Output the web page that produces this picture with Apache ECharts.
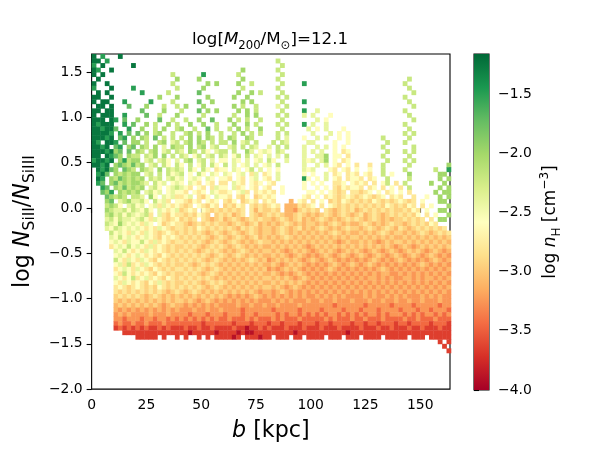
<!DOCTYPE html>
<html>
<head>
<meta charset="utf-8">
<script src="https://cdn.jsdelivr.net/npm/echarts@6/dist/echarts.min.js"></script>
<style>
  html, body { margin: 0; padding: 0; background: #fff; }
  #chart { width: 600px; height: 450px; }
</style>
</head>
<body>
<div id="chart"></div>
<script>
// binned map of log n_H: one string per 0.05 dex row (first row is 1.65..1.70),
// one char per 2 kpc column, '.' = empty bin, letters index levelValues
var bStep = 2, yStep = 0.05, yTop = 1.70;
var levelChars = 'abcdefghijklmn';
var levelValues = [-3.9, -3.65, -3.45, -3.25, -3.1, -2.95, -2.8, -2.6, -2.4, -2.2, -2.0, -1.75, -1.5, -1.25];

var rows = [
  'n.m...n... .......... .......... .......... .......... .......... .......... .......... ..',
  'nn.m...... .......... .......... .......... ..j....... .......... .......... .......... ..',
  'm.n......n .......... .......... .......... ...j...... .......... .......... .......... ..',
  'nm..n..... .......... .......... ....k..... ..j....... .......... .......... .......... ..',
  'n.n....... ........j. .....m.... ...j...... ...j...... .......... .......... .......... ..',
  '.n........ .........k ....k..... ....k..... ..j....... .......... .......... ..j....... ..',
  'n..n...... ........j. ......k.k. ...k..j... ...j....m. .......... .......... .j........ ..',
  'm...n....m .........j .....k.... ....j..... ..j....... .......... .......... ..j....... ..',
  '.n.n...... .m.....j.. ....l..... ...k..k.j. ...j...... .......... .......... ...j...... ..',
  'nn..n..... .....k...k ......k... ..k..k.... ..j.j..... .......... .......... .j........ ..',
  'n.nn...m.. ...m....j. ....l..k.. ....k.k... ...j....m. .......... .......... ..j....... ..',
  '.nn.n...l. ..k...j..j .k...k.... ..k.j..j.. ..i.j..... .......... .......... ...j...... ..',
  'nn.nn..... .l....k... j...l.k.k. ...k.k.j.. ...j....m. .i........ .......... .j........ ..',
  'n.nnn..m.. ..l..j...k .....j.... ..j..k.k.. ..j.j...i. i...h..... .......... ..j....... ..',
  'nnn.nm.l.. k....l..j. .j..k..l.. .k.j.j..j. ...j...... .i.h...... .......... ...j...... ..',
  'nmnnn..m.l ..k.j..k.j ..k..k..j. ..k..k.j.. ..j.j...m. i..i...... .......... .j........ ..',
  'nnmnnl..m. .k..j.k..j k..j..l.j. .j.k.j..k. ...j.....i .h.i...h.. .......... ..j....... ..',
  'nnnnm.m.l. l.k.jk..j. .jk.j.k..j ..j.k.j.j. ..j.j..... i...i.h.h. .......... .j.j...... ..',
  'nnnmn.lm.k .kj.l.j.j. j.k.k.kj.j .kj..kj... ..j.i...h. .i.i..h.h. ......j... ..j....... ..',
  'nm.nnm.l.k k.j..jk.ij .jk.kj.j.j j.k.ij.j.. .j.ji....i i....h..h. .......j.. .j........ ..',
  'nnmn.lm.kl .kj.k.i.kj j.k.jk.ij. .ij.j.ji.. i.j.j...i. .i.i.h.h.. ......j... ...j...... ..',
  'nnnmnkl.l. kj.jk.ij.j i.kj.jh.ij j.j..ki.hi h.ji....i. i.i..h.gh. .......j.. .j.j...... ..',
  'nn.nmlk.kj j.jik.k.j. ji.hj.ij.j i.hj.j.ih. i.i.j...i. .iik.hh.g. ......j... ..j....... ..',
  'mnnmn.kmjk k.ij.ijh.i .jk.ij.i.h h.ih.i.hi. jh..i...ih i.ik.h.gh. .......j.. .j.j...... ..',
  'nnmn.klkjl jk.ij.jh.j h.j.hj.jh. j.i.hi.i.h i.j.....i. .i.i.hg.h. g..g..j... ..j....... .k',
  '.nmnlk.lkj .kji.k.jij i.jh.jh.gh h.ih.hj.i. h.h.....ih i...hg.hg. h..h..j... .j......j. .m',
  '.mnl.kjkjk k.ij.j.jhi j.h.jh.ih. ih.hi.gi.g h.i.....h. h..i.gh.gh g.hg..j.h. ..k......k k.',
  '.nm.kjlkjk jk.jij.ijh i.hih.ih.h hg.hg.hi.h g.i.....mh .h.i.hg.gh hg.gh..j.. ..j......k .k',
  '.ml.kljkjk kji.jhi.hi h.ihg.hg.g g.ihg.hgh. hg......h. h.h..ggh.h ghg.g.hj.g .j.....k.. k.',
  '..ml.kjljk jk.ijh.hij ihg.hg.gih h.igh.hg.h g..h....h. .h.h.gfhgh hg.gh.g.h. g.j......k .k',
  '..lkm.kjkj k.ijhi.hih hg.hgh.ihg gh.hig.ghg hg.h.....h h.h.hgfg.g gfgh.h.gh. h.g.....k. kk',
  '...lkjkj.j ji.kh.ihig ghi.gfh.ih hg.gfh.fgh gh......hg .h.ghgfghg fghgfgh.gh g..g..h..k .k',
  '...kl.ijki ijh.jhig.h hgfhg.hgh. gfh.fghg.g hg...e.hg. g.h.fgfhgf gfgfhgfgfg hgfg.h...k k.',
  '...jkjh.ij hi.higihgh gfg.hgfhg. fgfhg.gfgf ghg.eeegfg h.g.hgfgfg fgfgfgfhgf gfhg.g.h.. .k',
  '...kjiijhj ihjh.ihghi fghg.hgfgf gfgfg.gegf fgf.eedfgf gf.gfefgfg efgfgfgfgf fgfhg.h..k k.',
  '...jkijhji hijg.igfhg gfgfhgf.fg fgefg.gfef gfgfeefgfe fefgfefgfe fgefgfefgf gfgfh.g.h. .k',
  '...ijhjiih ijhgihgfgh fgfg.gfefg efgfefgfgf fefgfefgef efgfefefgf gfefgfefef fgfgfg.g.k k.',
  '...jihkihi hgih.hfghg gfefgfgfgf fefgfefgef efefgfefef fefefgfefe efgfefefgf fefgfgfhg. ..',
  '...ihjihih ihghgihgfg gfgfhgfgfg fgfegfgfef fefgfefgef efgfefefgf fefgfefgfe gfefgfgfgf g.',
  '....jhihgi hgihgfghgf gfgfgfefgf efgfefgfef fefgfefefe fefefgfefe efefefgfef fefefgfefg fg',
  '....ihjhih ghihgfhghg fgfgfgfefg fefgfefgef efefgfefef efefefefef fefefefefe efefefefef ef',
  '....hihgih hjhgighgfg gfgfgfefgf efgfefefgf fefefefefe fefefedefe efefedefef fefefefefe fe',
  '....ghihjh ihgighgfgf fgfgfefgfg fefgfefefe efefefefed efefefefef efefefefed efedefefef ef',
  '.....ihjhg hgihghgfgf gfgfefgfgf efefgfefef fefedefefe defefedefe fedefedefe defefedefe de',
  '.....hihgh ihghgfhgfg fgfgfgfefg fefgfefefe efefedefed edefedefed efedefedef edefedefed ed',
  '.....jhgih gihgfhgfgf gfgfgfefgf efefefgfef defefefede fedefedede dedefedede fedededefe de',
  '.....higjg hgihgfgfgf fgfefgfgfe fefefefefe efedefefed ededefedef edefededed ededefeded ed',
  '.....ghihg ihgfhgfgfg gfgfgfefgf efefefefef dedefefede dedefedede dededefede dedededede de',
  '.....hgjhg hghgfhgfgf fgfgfefgfe fefefefefe efededefed ededededed edededeedd ededededed ed',
  '.....ihghj ghighgfhgf gfgfgfgfef efefefefef fefefedefe dedededede dedeededed deededeede de',
  '.....hgihg hgfhgigfgf fgfgfefgfg fefefefefe efefefefed ededededed ededededed ededededed ed',
  '.....ghgfg hgfgfhgfgf gfgfgfefgf efefefefef fefedefede dedededede dedededede dedededede de',
  '.....gfgfg fgfgfgfefg fefgfefefe fefefefede edefededed ededededed ededededed ededededed ed',
  '.....fgfgf gfefgfefef efefefefef edededefed ededededed dededededd ddededdede dedddedede dd',
  '.....fefef efefefefef fefedefede dededededd dedededdde ddeddeddde dddeddedde ddeddeddde dd',
  '.....efefe fefefedefe ededededed dddeddedde ddeddddedd dddddcdddd ddcdddddcd dddcdddddc dd',
  '.....edede dedededede dddeddedde ddddcddddd dcdddddcdd ddcddddcdd dcdddcdddd cdddcddcdd dc',
  '.....deded dddedddedd ddcdddcddd cdddcddcdd ddcdcddcdc dcdcddcdcd cdcddcdcdd dcdcdcddcd cd',
  '.....ddcdd dcddcddcdc dcdcdcdcdc cdcccdcdcc cdcdcccdcc cccdcdcccd ccdcccdccc cdccdcccdc cc',
  '.....cdccd ccdcccdccc cccccbcccc ccbcccbccc bccbcccbcc cbccbccccb ccbccbcccb ccbccccbcc cb',
  '.....bcbcb cbcbbcbcbb bcbbcbbcbb bbcbbabbcb cbbbcbbbcb bbcbbbcbbb bcbbbcbbcb bbcbbcbbbc bb',
  '.......bbb bbbbbbbbbb bbabbbbbab bbbabaabbb bbbbbbabbb bbbbbbbbab bbbbbbbbbb bbbbbbbbbb bb',
  '.......... bbbbb.b..b .b..b.b.bb bbab.bbbab b.bbb.bb.b bbb.bbb.bb b.bbbb.bbb bb.bbb.bbb bb',
  '.......... .......... .......... .......... .......... .......... .......... .........b .b',
  '.......... .......... .......... .......... .......... .......... .......... .......... b.',
  '.......... .......... .......... .......... .......... .......... .......... .......... .b'
];

var xTicks = [0, 25, 50, 75, 100, 125, 150];
var yTicks = [-2, -1.5, -1, -0.5, 0, 0.5, 1, 1.5];
var cbTicks = [-4, -3.5, -3, -2.5, -2, -1.5];
var cbRange = [-4, -1.16];
var rdylgn = ['#a50026', '#d73027', '#f46d43', '#fdae61', '#fee08b', '#ffffbf',
              '#d9ef8b', '#a6d96a', '#66bd63', '#1a9850', '#006837'];

var cells = [];
rows.forEach(function (row, r) {
    var s = row.replace(/ /g, '');
    for (var c = 0; c < s.length; c++) {
        var k = levelChars.indexOf(s[c]);
        if (k < 0) continue;
        cells.push([c * bStep, +(yTop - (r + 1) * yStep).toFixed(2), levelValues[k]]);
    }
});

var font = 'DejaVu Sans';
function fmt1(v) {
    return (v < 0 ? '\u2212' : '') + Math.abs(v).toFixed(1);
}
var tickStyle = { color: '#000', width: 1.1 };

var chart = echarts.init(document.getElementById('chart'));
chart.setOption({
    animation: false,
    title: {
        text: 'log[{it|M}{sub|200}/M{sub|\u2299}]=12.1',
        left: 270,
        top: 28,
        textAlign: 'center',
        padding: 0,
        textStyle: {
            fontFamily: font, fontSize: 16.7, fontWeight: 'normal', color: '#000', lineHeight: 24,
            rich: {
                it: { fontFamily: font, fontSize: 16.7, fontStyle: 'italic', lineHeight: 24, color: '#000' },
                sub: { fontFamily: font, fontSize: 11.7, lineHeight: 16, verticalAlign: 'bottom', color: '#000' }
            }
        }
    },
    grid: [
        { left: 90, top: 54, width: 360, height: 336, show: true, borderColor: '#000', borderWidth: 1.1, backgroundColor: 'transparent' },
        { left: 474, top: 54, width: 15, height: 336, show: true, borderColor: '#000', borderWidth: 1.1, backgroundColor: 'transparent' }
    ],
    visualMap: {
        type: 'continuous',
        show: false,
        seriesIndex: 0,
        dimension: 2,
        min: cbRange[0],
        max: cbRange[1],
        inRange: { color: rdylgn }
    },
    xAxis: [{
        gridIndex: 0,
        type: 'value',
        min: 0,
        max: 163.6,
        splitLine: { show: false },
        axisLine: { show: false },
        axisTick: { show: true, length: 5, lineStyle: tickStyle, customValues: xTicks },
        axisLabel: { customValues: xTicks, margin: 9, color: '#000', fontFamily: font, fontSize: 13.9 },
        name: '{it|b} [kpc]',
        nameLocation: 'middle',
        nameGap: 27,
        nameTextStyle: {
            fontFamily: font, fontSize: 22.2, color: '#000', lineHeight: 28,
            rich: { it: { fontFamily: font, fontSize: 22.2, fontStyle: 'italic', lineHeight: 28, color: '#000' } }
        }
    }, {
        gridIndex: 1,
        type: 'value',
        min: 0,
        max: 1,
        show: false
    }],
    yAxis: [{
        gridIndex: 0,
        type: 'value',
        min: -2,
        max: 1.7,
        splitLine: { show: false },
        axisLine: { show: false },
        axisTick: { show: true, length: 5, lineStyle: tickStyle, customValues: yTicks },
        axisLabel: { customValues: yTicks, formatter: fmt1, margin: 9, color: '#000', fontFamily: font, fontSize: 13.9 },
        name: 'log {it|N}{sub|SiII}/{it|N}{sub|SiIII}',
        nameLocation: 'middle',
        nameRotate: 90,
        nameGap: 50,
        nameTextStyle: {
            fontFamily: font, fontSize: 22.2, color: '#000', lineHeight: 30,
            rich: {
                it: { fontFamily: font, fontSize: 22.2, fontStyle: 'italic', lineHeight: 30, color: '#000' },
                sub: { fontFamily: font, fontSize: 15.5, lineHeight: 20, verticalAlign: 'bottom', color: '#000' }
            }
        }
    }, {
        gridIndex: 1,
        type: 'value',
        position: 'right',
        min: cbRange[0],
        max: cbRange[1],
        splitLine: { show: false },
        axisLine: { show: false },
        axisTick: { show: true, length: 5, lineStyle: tickStyle, customValues: cbTicks },
        axisLabel: { customValues: cbTicks, formatter: fmt1, margin: 9, color: '#000', fontFamily: font, fontSize: 13.9 },
        name: 'log {it|n}{sub|H} [cm{sup|\u22123}]',
        nameLocation: 'middle',
        nameRotate: 90,
        nameGap: 50,
        nameTextStyle: {
            fontFamily: font, fontSize: 17, color: '#000', lineHeight: 24,
            rich: {
                it: { fontFamily: font, fontSize: 17, fontStyle: 'italic', lineHeight: 24, color: '#000' },
                sub: { fontFamily: font, fontSize: 12, lineHeight: 16, verticalAlign: 'bottom', color: '#000' },
                sup: { fontFamily: font, fontSize: 12, lineHeight: 12, verticalAlign: 'top', color: '#000' }
            }
        }
    }],
    series: [{
        type: 'custom',
        xAxisIndex: 0,
        yAxisIndex: 0,
        clip: true,
        data: cells,
        renderItem: function (params, api) {
            var b0 = api.value(0), y0 = api.value(1);
            var p0 = api.coord([b0, y0 + yStep]);
            var p1 = api.coord([b0 + bStep, y0]);
            return {
                type: 'rect',
                shape: { x: p0[0], y: p0[1], width: p1[0] - p0[0] + 0.4, height: p1[1] - p0[1] + 0.4 },
                style: { fill: api.visual('color') }
            };
        }
    }, {
        type: 'custom',
        xAxisIndex: 1,
        yAxisIndex: 1,
        data: [[0, cbRange[0], cbRange[1]]],
        renderItem: function (params, api) {
            var p0 = api.coord([0, api.value(2)]);
            var p1 = api.coord([1, api.value(1)]);
            var stops = rdylgn.map(function (c, i) {
                return { offset: i / (rdylgn.length - 1), color: c };
            });
            return {
                type: 'rect',
                shape: { x: p0[0], y: p0[1], width: p1[0] - p0[0], height: p1[1] - p0[1] },
                style: { fill: new echarts.graphic.LinearGradient(0, 1, 0, 0, stops) }
            };
        }
    }]
});
</script>
</body>
</html>
